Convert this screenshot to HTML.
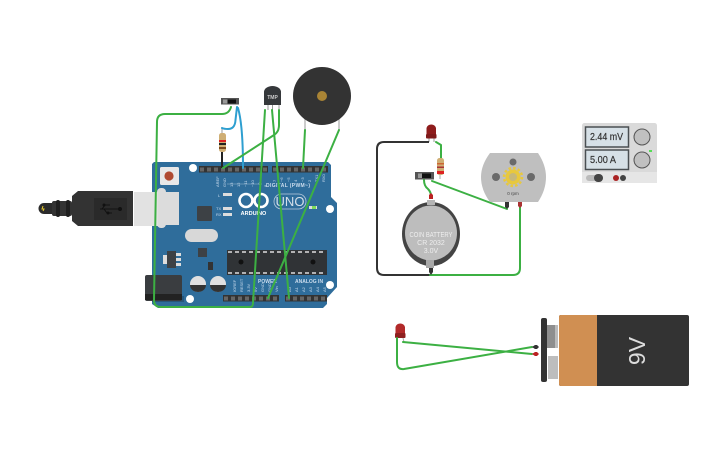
<!DOCTYPE html>
<html><head><meta charset="utf-8"><style>
html,body{margin:0;padding:0;background:#fff;width:725px;height:453px;overflow:hidden}
svg{display:block}
text{font-family:"Liberation Sans",sans-serif}
.g{fill:none;stroke:#3cb043;stroke-width:2;stroke-linecap:round;stroke-linejoin:round}
.b{fill:none;stroke:#2e9fd0;stroke-width:2;stroke-linecap:round}
</style></head><body>
<svg width="725" height="453" viewBox="0 0 725 453" xmlns="http://www.w3.org/2000/svg">
<!-- Board -->
<path d="M154 162H328L331 165V197L337 203V287L327 298V304L323 308H158L152 304V164Z" fill="#2f6d9b"/>
<circle cx="193" cy="168" r="4" fill="#fff"/><circle cx="330" cy="209" r="4" fill="#fff"/><circle cx="330" cy="285" r="4" fill="#fff"/><circle cx="190" cy="299" r="4" fill="#fff"/>
<!-- headers -->
<rect x="199" y="166" width="69" height="6.500" fill="#333"/><rect x="272" y="166" width="56" height="6.500" fill="#333"/>
<rect x="223" y="295" width="56" height="6.500" fill="#333"/><rect x="285" y="295" width="42" height="6.500" fill="#333"/>
<g stroke="#666" stroke-width="4" stroke-dasharray="4 3"><path d="M200 169.500H268M273 169.500H328M224 298.500H279M286 298.500H327"/></g>
<!-- reset -->
<rect x="160" y="167" width="19" height="18" rx="1.500" fill="#e8e8e8"/><circle cx="169" cy="176" r="4.600" fill="#b04a30"/>
<!-- USB -->
<rect x="157" y="188" width="9" height="40" rx="4" fill="#dcdcdc"/>
<rect x="157" y="192" width="22" height="33" fill="#dcdcdc"/>
<rect x="134" y="192" width="24" height="34" fill="#e2e2e2"/>
<path d="M72 196L78 191H133V226H78L72 221Z" fill="#333"/>
<rect x="94" y="198" width="33" height="22" fill="#2a2a2a"/>
<path d="M100 209H120" stroke="#111" stroke-width="1"/><circle cx="120" cy="209" r="2" fill="#111"/><circle cx="104" cy="205" r="1.500" fill="#111"/><circle cx="108" cy="213" r="1.500" fill="#111"/><path d="M102 209L105 205H110M104 209L107 213H112" stroke="#111" fill="none"/>
<rect x="52" y="201" width="20" height="15" rx="2" fill="#333"/><rect x="56" y="200" width="4" height="17" rx="2" fill="#1f1f1f"/><rect x="66" y="200" width="4" height="17" rx="2" fill="#1f1f1f"/>
<path d="M52 203H44a5.500 5.500 0 0 0 0 11H52Z" fill="#2b2b2b"/><path d="M43 206l-1 3h2l-1 2" stroke="#e6c92e" fill="none" stroke-width="1"/>
<!-- power jack -->
<rect x="152" y="296" width="32" height="6" fill="#27567a"/>
<rect x="145" y="275" width="37" height="26" rx="2" fill="#3a3d40"/><rect x="145" y="294" width="37" height="6" fill="#222"/>
<!-- chips -->
<rect x="185" y="229" width="33" height="13" rx="6.500" fill="#d8d8d8"/>
<rect x="197" y="206" width="15" height="15" rx="1" fill="#3d4145"/>
<rect x="198" y="248" width="9" height="9" fill="#3d4145"/>
<rect x="167" y="251" width="9" height="17" fill="#3d4145"/><rect x="176" y="253" width="5" height="3" fill="#ddd"/><rect x="176" y="258" width="5" height="3" fill="#ddd"/><rect x="176" y="263" width="5" height="3" fill="#ddd"/><rect x="163" y="255" width="4" height="9" fill="#ddd"/>
<rect x="208" y="262" width="5" height="8" fill="#333"/>
<circle cx="198" cy="284" r="8" fill="#e0e0e0"/><path d="M190 285h16a8 7 0 0 1-16 0z" fill="#333"/>
<circle cx="218" cy="284" r="8" fill="#e0e0e0"/><path d="M210 285h16a8 7 0 0 1-16 0z" fill="#333"/>
<rect x="227" y="250" width="100" height="25" fill="#303336"/>
<path d="M228 252H326M228 273H326" stroke="#ddd" stroke-width="1.500" stroke-dasharray="4 3"/>
<circle cx="241" cy="262" r="2.500" fill="#111"/><circle cx="313" cy="262" r="2.500" fill="#111"/>
<!-- logo -->
<g fill="none" stroke="#fff" stroke-width="2.600"><circle cx="246" cy="200.500" r="6.500"/><circle cx="261" cy="200.500" r="6.500"/></g>
<text x="253.500" y="215" font-size="5.500" font-weight="bold" fill="#fff" text-anchor="middle">ARDUINO</text>
<rect x="274" y="194" width="32" height="15" rx="7.500" fill="none" stroke="#bcd" stroke-width=".8"/>
<text x="290" y="206" font-size="13" fill="#d5e0ea" text-anchor="middle">UNO</text>
<path d="M227 184H262" stroke="#9fbdd4" stroke-width=".6"/>
<text x="266" y="187" font-size="5" font-weight="bold" fill="#cde" textLength="44">DIGITAL (PWM~)</text>
<text x="258" y="283" font-size="5" font-weight="bold" fill="#cde">POWER</text>
<text x="295" y="283" font-size="5" font-weight="bold" fill="#cde">ANALOG IN</text>
<rect x="223" y="193" width="9" height="3" fill="#ddd"/><rect x="223" y="207" width="9" height="3" fill="#ddd"/><rect x="223" y="213" width="9" height="3" fill="#ddd"/>
<rect x="309" y="206" width="8" height="3" fill="#ddd"/><rect x="312" y="206" width="4" height="3" fill="#7ddc5a"/>
<g font-size="4" fill="#cde"><text x="218" y="197">L</text><text x="216" y="210">TX</text><text x="216" y="216">RX</text></g>
<g font-size="4" fill="#cde">
<text transform="translate(219,187) rotate(-90)">AREF</text><text transform="translate(226,187) rotate(-90)">GND</text>
<text transform="translate(233,187) rotate(-90)">13</text><text transform="translate(240,187) rotate(-90)">12</text><text transform="translate(247,187) rotate(-90)">~11</text><text transform="translate(254,187) rotate(-90)">~10</text><text transform="translate(261,187) rotate(-90)">~9</text><text transform="translate(267,187) rotate(-90)">8</text>
<text transform="translate(276,182) rotate(-90)">7</text><text transform="translate(283,182) rotate(-90)">~6</text><text transform="translate(290,182) rotate(-90)">~5</text><text transform="translate(297,182) rotate(-90)">4</text><text transform="translate(304,182) rotate(-90)">~3</text><text transform="translate(311,182) rotate(-90)">2</text><text transform="translate(318,182) rotate(-90)">TX1</text><text transform="translate(325,182) rotate(-90)">RX0</text>
<text transform="translate(236,292) rotate(-90)">IOREF</text><text transform="translate(243,292) rotate(-90)">RESET</text><text transform="translate(250,292) rotate(-90)">3.3V</text><text transform="translate(257,292) rotate(-90)">5V</text><text transform="translate(264,292) rotate(-90)">GND</text><text transform="translate(271,292) rotate(-90)">GND</text><text transform="translate(278,292) rotate(-90)">Vin</text>
<text transform="translate(291,292) rotate(-90)">A0</text><text transform="translate(298,292) rotate(-90)">A1</text><text transform="translate(305,292) rotate(-90)">A2</text><text transform="translate(312,292) rotate(-90)">A3</text><text transform="translate(319,292) rotate(-90)">A4</text><text transform="translate(326,292) rotate(-90)">A5</text>
</g>
<!-- top components -->
<rect x="221" y="98" width="18" height="6.500" fill="#555"/><rect x="228" y="99.500" width="8" height="4" fill="#111"/><rect x="223" y="99.500" width="4" height="4" fill="#999"/>
<path d="M222 152V168" stroke="#222" stroke-width="2"/>
<path d="M222 128V134" stroke="#aaa" stroke-width="1.200"/>
<rect x="219" y="133" width="7" height="19" rx="2.500" fill="#cfae74"/>
<rect x="219" y="140" width="7" height="2" fill="#d22"/><rect x="219" y="143" width="7" height="2" fill="#222"/><rect x="219" y="147" width="7" height="2" fill="#7a4a20"/>
<path d="M268 105V110M272.500 105V110M279 105V110" stroke="#999"/>
<path d="M264 92a8.500 6 0 0 1 17 0V105H264Z" fill="#35383b"/>
<text x="272.500" y="99" font-size="5" font-weight="bold" fill="#ccc" text-anchor="middle">TMP</text>
<path d="M305 118V130M339 118V130" stroke="#bbb" stroke-width="1.500"/>
<circle cx="322" cy="96" r="29" fill="#333"/><circle cx="322" cy="96" r="5" fill="#a98435"/>
<!-- Arduino wires -->
<path class="g" d="M231 107Q229 114 222 114H165Q157 114 157 122L154 300Q154 307 161 307H250Q253 307 253 303L265 110"/>
<path class="b" d="M237 107L235.500 120Q235 129 228 129Q224 129 222 128"/>
<path class="b" d="M238 108Q243 125 243 168"/>
<path class="g" d="M223 168L274 135Q279 132 279 125V110"/>
<path class="g" d="M272 110L289 298"/>
<path class="g" d="M305 130L303 168"/>
<path class="g" d="M339 130L268 298"/>
<!-- Circuit 2 -->
<path d="M429 138V142M434 138V142" stroke="#aaa" stroke-width="1.200"/>
<path d="M426.500 135V128a5 5 0 0 1 9.500 0V135Z" fill="#8e1c1c"/><rect x="426" y="134" width="10.500" height="4.500" rx="1" fill="#7f1a1a"/>
<path d="M429 142H384Q377 142 377 149V268Q377 275 384 275H430" fill="none" stroke="#333" stroke-width="2"/>
<path class="g" d="M436 142L441 145V158"/>
<path d="M440 175V179" stroke="#aaa"/>
<rect x="437" y="158" width="7" height="17" rx="2.500" fill="#cfae74"/>
<rect x="437" y="163" width="7" height="1.500" fill="#c63"/><rect x="437" y="166.500" width="7" height="1.500" fill="#a33"/><rect x="437" y="171" width="7" height="3" fill="#d22"/>
<rect x="415" y="172" width="19" height="7.500" fill="#555"/><rect x="422" y="173.500" width="9" height="4.500" fill="#111"/><rect x="418" y="173.500" width="4" height="4.500" fill="#999"/>
<path class="g" d="M424 180Q424 186 428 189Q431 192 431 196"/>
<path class="g" d="M432 181L507 209"/>
<path class="g" d="M430 275H513Q520 275 520 268V207"/>
<path d="M429 195L431 193L433 195V199H429Z" fill="#b22"/>
<path d="M429 268H433V272L431 275L429 272Z" fill="#333"/>
<ellipse cx="431" cy="234" rx="29" ry="32" fill="#444"/>
<ellipse cx="431" cy="233" rx="26" ry="27.500" fill="#bdbdbd"/>
<rect x="427" y="200" width="8" height="5" fill="#b5b5b5"/>
<rect x="426" y="260" width="8" height="8" fill="#a8a8a8"/>
<g font-size="7" fill="#eee" text-anchor="middle"><text x="431" y="237" textLength="43" lengthAdjust="spacingAndGlyphs">COIN BATTERY</text><text x="431" y="245">CR 2032</text><text x="431" y="253">3.0V</text></g>
<path d="M490 153H538Q546 165 546 177Q546 190 538 202H490Q481 190 481 177Q481 165 490 153Z" fill="#bfbfbf"/>
<circle cx="496" cy="177" r="4" fill="#6a6a6a"/><circle cx="531" cy="177" r="4" fill="#6a6a6a"/><circle cx="513" cy="162" r="3.500" fill="#6a6a6a"/>
<circle cx="513" cy="177" r="7.500" fill="#e8c83d"/><circle cx="513" cy="177" r="9" fill="none" stroke="#e8c83d" stroke-width="2.500" stroke-dasharray="2.500 2.200"/><circle cx="513" cy="177" r="4" fill="#c6b87a"/>
<text x="513" y="195" font-size="4.500" fill="#444" text-anchor="middle">0 rpm</text>
<path d="M505 202H509V207L507 209L505 207Z" fill="#333"/><path d="M518 202H522V206L520 208L518 206Z" fill="#a33"/>
<!-- Power supply -->
<rect x="582" y="123" width="75" height="60" rx="2.500" fill="#dadada"/><rect x="582" y="172" width="75" height="11" fill="#e6e6e6"/>
<rect x="585.500" y="127" width="43" height="20" fill="#d6e0e6" stroke="#4a4f52" stroke-width="1.500"/>
<rect x="585.500" y="150" width="43" height="19.500" fill="#d6e0e6" stroke="#4a4f52" stroke-width="1.500"/>
<text x="590" y="140" font-size="10.500" fill="#333" textLength="33" lengthAdjust="spacingAndGlyphs" stroke="#333" stroke-width=".2">2.44 mV</text>
<text x="590" y="163" font-size="10.500" fill="#333" textLength="26" lengthAdjust="spacingAndGlyphs" stroke="#333" stroke-width=".2">5.00 A</text>
<circle cx="642" cy="137" r="8" fill="#c0c0c0" stroke="#555"/>
<circle cx="642" cy="160" r="8" fill="#c0c0c0" stroke="#555"/>
<rect x="649" y="150" width="3" height="2" fill="#5d5"/>
<rect x="586" y="175" width="17" height="6" rx="3" fill="#bbb"/><rect x="594" y="174" width="9" height="8" rx="4" fill="#444"/>
<circle cx="616" cy="178" r="3" fill="#a22"/><circle cx="623" cy="178" r="3" fill="#444"/>
<!-- 9V -->
<rect x="547" y="325" width="8" height="23" fill="#8e8e8e"/><rect x="555" y="325" width="3" height="23" fill="#bbb"/>
<rect x="548" y="356" width="10" height="23" fill="#bdbdbd"/>
<rect x="541" y="318" width="6" height="64" rx="2" fill="#333"/>
<rect x="559" y="315" width="130" height="71" rx="2" fill="#333"/>
<path d="M597 315H561a2 2 0 0 0-2 2v67a2 2 0 0 0 2 2h36Z" fill="#d08f52"/>
<text transform="translate(645,351) rotate(-90)" font-size="23" fill="#ddd" text-anchor="middle">9V</text>
<path d="M397 338V342M403 338L404 342" stroke="#aaa"/>
<path d="M395.500 335V327a5 5 0 0 1 9.500 0V335Z" fill="#b22a2a"/><rect x="395" y="333" width="10.500" height="5" rx="1" fill="#8f2020"/>
<path class="g" d="M403 342L532 354"/>
<path class="g" d="M397 338V362Q397 370 404 369L532 347"/>
<path d="M532 347L535 345H537L539 347L537 349H535Z" fill="#333"/>
<path d="M532 354L535 352H537L539 354L537 356H535Z" fill="#b22"/>
</svg>
</body></html>
